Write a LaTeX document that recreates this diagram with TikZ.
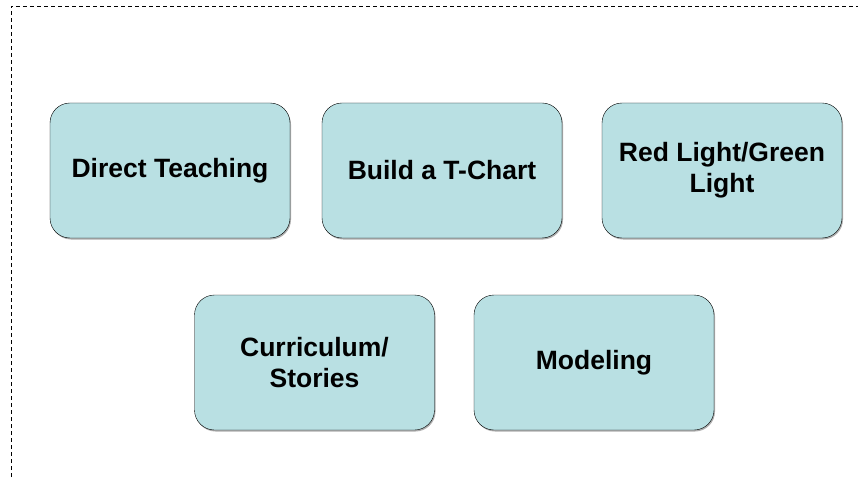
\documentclass[tikz,border=0pt]{standalone}
\usepackage{fontspec}
\setmainfont{Liberation Sans}
\usetikzlibrary{shadows}

\definecolor{boxfill}{RGB}{185,224,227}

\begin{document}
\begin{tikzpicture}[
    x=1pt, y=1pt,
    box/.style={rectangle, rounded corners=20pt, draw=black, thin, fill=boxfill,
        minimum width=240pt, minimum height=135pt, align=center,
        font=\fontsize{26.5}{31}\selectfont\bfseries,
        drop shadow={shadow xshift=1pt, shadow yshift=-1.5pt, fill=black!45, opacity=0.7}},
    frame/.style={draw=black, thin, dash pattern=on 4pt off 3pt}
]
    \useasboundingbox (0,0) rectangle (858,477);
    \draw[frame] (11,0) -- (11,471) -- (858,471);
    \node[box] (direct) at (170,306.5) {Direct Teaching};
    \node[box] (tchart) at (442,306.5) {Build a T-Chart};
    \node[box] (light) at (722,306.5) {Red Light/Green\\Light};
    \node[box] (stories) at (314.5,114.5) {Curriculum/\\Stories};
    \node[box] (model) at (594,114.5) {Modeling};
\end{tikzpicture}
\end{document}
